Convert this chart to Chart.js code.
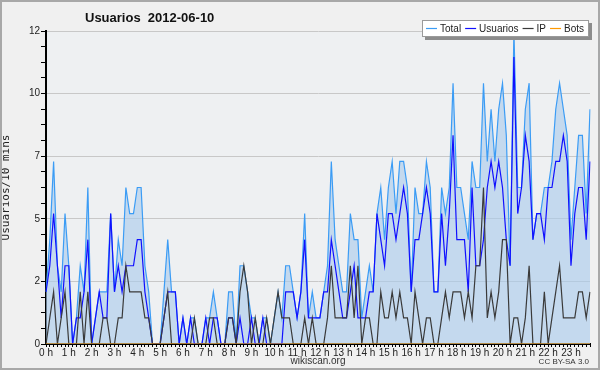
<!DOCTYPE html>
<html>
<head>
<meta charset="utf-8">
<script src="https://cdn.jsdelivr.net/npm/chart.js@4"></script>
<style>
  html, body { margin: 0; padding: 0; background: #f0f0f0; }
  canvas { display: block; }
</style>
</head>
<body>
<canvas id="usersChart" width="600" height="370"></canvas>
<script>
// hour labels on the x axis (one every 6 points of 10 minutes)
const hourLabels = ['0 h', '1 h', '2 h', '3 h', '4 h', '5 h', '6 h', '7 h', '8 h', '9 h', '10 h', '11 h',
  '12 h', '13 h', '14 h', '15 h', '16 h', '17 h', '18 h', '19 h', '20 h', '21 h', '22 h', '23 h'];

// values per 10 minutes, 2012-06-10
const total = [
  2, 4, 7, 3, 2, 5, 3, 0, 1, 3,
  2, 6, 0, 1, 2, 2, 2, 5, 2, 4,
  3, 6, 5, 5, 6, 6, 3, 2, 0, 0,
  0, 2, 4, 2, 2, 0, 1, 0, 1, 1,
  0, 0, 1, 1, 2, 1, 0, 0, 2, 2,
  0, 3, 3, 2, 1, 1, 0, 1, 1, 0,
  1, 2, 1, 3, 3, 2, 1, 2, 5, 1,
  2, 1, 1, 2, 3, 7, 4, 3, 2, 2,
  5, 4, 4, 1, 2, 3, 2, 5, 6, 4,
  6, 7, 5, 7, 7, 6, 2, 6, 5, 5,
  7, 6, 2, 2, 6, 5, 6, 10, 6, 6,
  5, 4, 7, 6, 6, 10, 7, 9, 7, 9,
  10, 8, 3, 12, 6, 6, 9, 10, 4, 5,
  5, 6, 6, 7, 9, 10, 9, 8, 4, 6,
  8, 8, 5, 9
];
const usuarios = [
  2, 3, 5, 3, 1, 3, 3, 0, 1, 1,
  2, 4, 0, 1, 2, 1, 1, 5, 2, 3,
  2, 3, 3, 3, 4, 4, 2, 1, 0, 0,
  0, 1, 2, 2, 2, 0, 1, 0, 1, 0,
  0, 0, 1, 0, 1, 1, 0, 0, 1, 1,
  0, 1, 0, 0, 1, 0, 0, 1, 0, 0,
  0, 0, 0, 2, 2, 2, 1, 2, 4, 1,
  1, 1, 1, 2, 2, 4, 3, 2, 1, 1,
  2, 3, 1, 1, 1, 2, 2, 5, 4, 3,
  5, 5, 4, 5, 6, 5, 2, 4, 4, 5,
  6, 5, 2, 2, 5, 3, 5, 8, 4, 4,
  4, 2, 6, 3, 3, 4, 6, 7, 6, 7,
  6, 4, 3, 11, 5, 6, 8, 7, 4, 5,
  5, 4, 6, 6, 7, 7, 8, 7, 3, 5,
  6, 6, 4, 7
];
const ip = [
  0, 1, 2, 0, 1, 2, 0, 0, 0, 2,
  0, 2, 0, 0, 0, 1, 1, 0, 0, 1,
  1, 3, 2, 2, 2, 2, 1, 1, 0, 0,
  0, 1, 2, 0, 0, 0, 0, 0, 0, 1,
  0, 0, 0, 1, 1, 0, 0, 0, 1, 1,
  0, 2, 3, 2, 0, 1, 0, 0, 1, 0,
  1, 2, 1, 1, 1, 0, 0, 0, 1, 0,
  1, 0, 0, 0, 1, 3, 1, 1, 1, 1,
  3, 1, 3, 0, 1, 1, 0, 0, 2, 1,
  1, 2, 1, 2, 1, 1, 0, 2, 1, 0,
  1, 1, 0, 0, 1, 2, 1, 2, 2, 2,
  1, 2, 1, 3, 3, 6, 1, 2, 1, 2,
  4, 4, 0, 1, 1, 0, 1, 3, 0, 0,
  0, 2, 0, 1, 2, 3, 1, 1, 1, 1,
  2, 2, 1, 2
];
const bots = new Array(144).fill(0);

const slots = [];
for (let h = 0; h < 24; h++) {
  for (let m = 0; m < 60; m += 10) slots.push(h + ':' + (m < 10 ? '0' : '') + m);
}

const fontFamily = "'Liberation Sans', Arial, sans-serif";
const isMajor = v => Math.abs(v / 2.4 - Math.round(v / 2.4)) < 1e-6;

// background, frame, title, legend box and credits
const decor = {
  id: 'decor',
  beforeDraw(chart) {
    const ctx = chart.ctx, a = chart.chartArea;
    ctx.save();
    ctx.fillStyle = '#f0f0f0';
    ctx.fillRect(0, 0, chart.width, chart.height);
    ctx.fillStyle = '#eef0f2';
    ctx.fillRect(a.left, a.top, a.right - a.left, a.bottom - a.top);
    ctx.restore();
  },
  afterDraw(chart) {
    const ctx = chart.ctx;
    ctx.save();
    // outer frame
    ctx.strokeStyle = '#a8a8a8';
    ctx.lineWidth = 2;
    ctx.strokeRect(1, 1, chart.width - 2, chart.height - 2);

    // title
    ctx.fillStyle = '#111';
    ctx.font = 'bold 13px ' + fontFamily;
    ctx.textBaseline = 'middle';
    ctx.textAlign = 'left';
    ctx.fillText('Usuarios  2012-06-10', 85, 18);

    // legend
    const bx = 422, by = 20, bw = 167, bh = 17;
    ctx.fillStyle = '#8c8c8c';
    ctx.fillRect(bx + 3, by + 3, bw, bh);
    ctx.fillStyle = '#ffffff';
    ctx.fillRect(bx, by, bw, bh);
    ctx.strokeStyle = '#9a9a9a';
    ctx.lineWidth = 1;
    ctx.strokeRect(bx + 0.5, by + 0.5, bw - 1, bh - 1);
    ctx.font = '10px ' + fontFamily;
    let x = bx + 4;
    const ly = by + bh / 2;
    chart.data.datasets.forEach(ds => {
      ctx.strokeStyle = ds.borderColor;
      ctx.lineWidth = 1.2;
      ctx.beginPath();
      ctx.moveTo(x, ly);
      ctx.lineTo(x + 11, ly);
      ctx.stroke();
      x += 14;
      ctx.fillStyle = '#222';
      ctx.fillText(ds.label, x, ly + 0.5);
      x += ctx.measureText(ds.label).width + 4;
    });

    // credits
    ctx.fillStyle = '#333';
    ctx.font = '8px ' + fontFamily;
    ctx.textAlign = 'right';
    ctx.fillText('CC BY-SA 3.0', 589, 362);
    ctx.restore();
  }
};

new Chart(document.getElementById('usersChart').getContext('2d'), {
  type: 'line',
  data: {
    labels: slots,
    datasets: [
      {
        label: 'Total',
        data: total,
        borderColor: '#3b9cf5',
        backgroundColor: 'rgba(170, 204, 236, 0.62)',
        borderWidth: 1.2,
        fill: 'origin',
        pointRadius: 0,
        tension: 0,
        order: 3,
      },
      {
        label: 'Usuarios',
        data: usuarios,
        borderColor: '#1010ff',
        borderWidth: 1.2,
        fill: false,
        pointRadius: 0,
        tension: 0,
        order: 2,
      },
      {
        label: 'IP',
        data: ip,
        borderColor: '#3a3a3a',
        borderWidth: 1.2,
        fill: false,
        pointRadius: 0,
        tension: 0,
        order: 1,
      },
      {
        label: 'Bots',
        data: bots,
        borderColor: '#ff9900',
        borderWidth: 1.2,
        fill: false,
        pointRadius: 0,
        tension: 0,
        order: 0,
      },
    ],
  },
  options: {
    responsive: false,
    animation: false,
    layout: { padding: { top: 31, right: 10, left: 0, bottom: 0 } },
    plugins: {
      legend: { display: false },
      title: { display: false },
      tooltip: { enabled: false },
    },
    scales: {
      x: {
        z: 1,
        afterFit: s => { s.height = 26; },
        grid: { drawOnChartArea: false, color: '#000', tickColor: '#000', tickLength: 3 },
        border: { color: '#000', width: 2 },
        ticks: {
          autoSkip: false,
          maxRotation: 0,
          padding: 0,
          color: '#222',
          font: { family: fontFamily, size: 10 },
          callback: (v, i) => (i % 6 === 0 ? hourLabels[i / 6] : ''),
        },
        title: {
          display: true,
          text: 'wikiscan.org',
          color: '#333',
          font: { family: fontFamily, size: 10 },
          padding: { top: 0, bottom: 3 },
        },
      },
      y: {
        min: 0,
        max: 12,
        afterFit: s => { s.width = 46; },
        grid: {
          color: c => (isMajor(c.tick.value) ? '#c8c8c8' : 'rgba(0,0,0,0)'),
          tickColor: '#000',
          tickLength: 5,
        },
        border: { color: '#000', width: 2 },
        ticks: {
          stepSize: 0.6,
          autoSkip: false,
          maxTicksLimit: 100,
          padding: 1,
          color: '#222',
          font: { family: fontFamily, size: 10 },
          callback: v => (isMajor(v) ? Math.round(v) : ''),
        },
        title: {
          display: true,
          text: 'Usuarios/10 mins',
          color: '#222',
          font: { family: "'DejaVu Sans Mono', monospace", size: 11 },
          padding: { top: 0, bottom: 0 },
        },
      },
    },
  },
  plugins: [decor],
});
</script>
</body>
</html>
